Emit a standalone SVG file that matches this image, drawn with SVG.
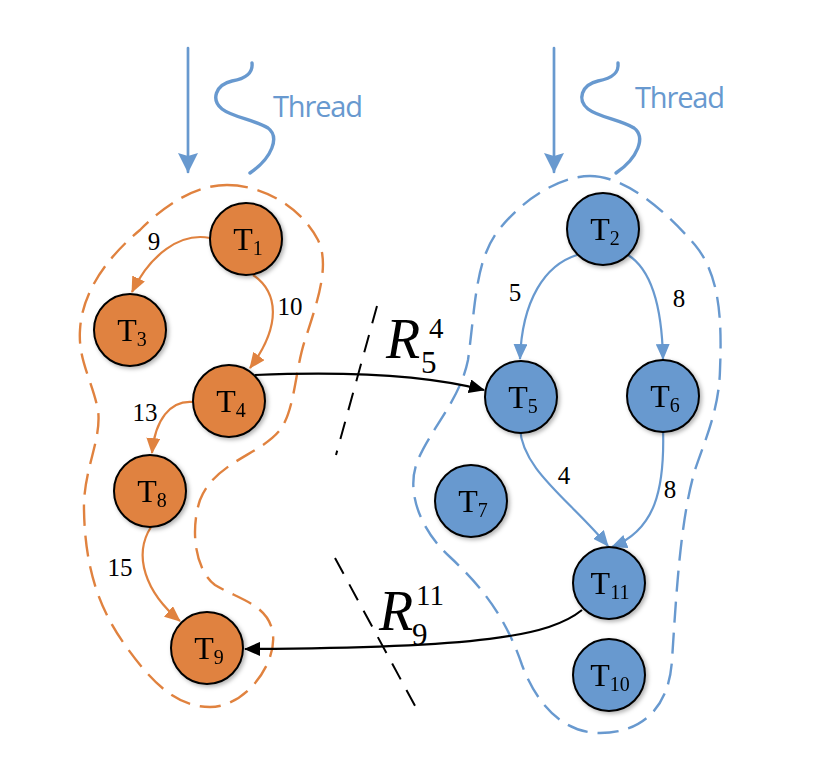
<svg xmlns="http://www.w3.org/2000/svg" width="822" height="758" viewBox="0 0 822 758">
<style>
.on{fill:#E0823F;stroke:#000;stroke-width:2}
.bn{fill:#6899CF;stroke:#000;stroke-width:2}
.lbl{font-family:"Liberation Serif","Times New Roman",serif;font-size:32px;fill:#000;text-anchor:middle}
.sub{font-size:20px}
.el{font-family:"Liberation Serif","Times New Roman",serif;font-size:25px;fill:#000;text-anchor:middle}
.oe{fill:none;stroke:#E0823F;stroke-width:2.2}
.be{fill:none;stroke:#6899CF;stroke-width:2.2}
.ke{fill:none;stroke:#000;stroke-width:2.2}
.od{fill:none;stroke:#E0823F;stroke-width:2.4;stroke-dasharray:21 10}
.bd{fill:none;stroke:#6899CF;stroke-width:2.4;stroke-dasharray:21 10}
.kd{fill:none;stroke:#000;stroke-width:2;stroke-dasharray:18 12}
.thr{fill:none;stroke:#6899CF;stroke-width:2.7;stroke-linecap:round}
.sq{fill:none;stroke:#6899CF;stroke-width:3.4;stroke-linecap:round}
.tt{font-family:"Open Sans","Noto Sans",sans-serif;font-size:29px;fill:#6899CF}
.R{font-family:"Liberation Serif","Times New Roman",serif;fill:#000}
</style>
<defs>
<filter id="sh" x="-20%" y="-20%" width="150%" height="150%">
<feDropShadow dx="2" dy="2" stdDeviation="2" flood-color="#000" flood-opacity="0.3"/>
</filter>
<marker id="ao" markerUnits="userSpaceOnUse" markerWidth="16" markerHeight="14" refX="15" refY="7" orient="auto"><path d="M0,0 L16,7 L0,14 z" fill="#E0823F"/></marker>
<marker id="ab" markerUnits="userSpaceOnUse" markerWidth="16" markerHeight="14" refX="15" refY="7" orient="auto"><path d="M0,0 L16,7 L0,14 z" fill="#6899CF"/></marker>
<marker id="ak" markerUnits="userSpaceOnUse" markerWidth="16" markerHeight="14" refX="15" refY="7" orient="auto"><path d="M0,0 L16,7 L0,14 z" fill="#000"/></marker>
<marker id="at" markerUnits="userSpaceOnUse" markerWidth="20" markerHeight="20" refX="19" refY="10" orient="auto"><path d="M0,0 L20,10 L0,20 L3,10 z" fill="#6899CF"/></marker>
</defs>

<g id="threads">
<line class="thr" x1="188" y1="48" x2="188" y2="172" marker-end="url(#at)"/>
<path class="sq" d="M252,63 C253,72 248,78 232,81 C215,85 211,100 222,109 C232,117 255,120 268,128 C280,137 272,158 250,173"/>
<text class="tt" x="273" y="117" textLength="90">Thread</text>
<line class="thr" x1="554" y1="48" x2="554" y2="172" marker-end="url(#at)"/>
<path class="sq" d="M618,63 C619,72 614,78 598,81 C581,85 577,100 588,109 C598,117 621,120 634,128 C646,137 638,158 616,173"/>
<text class="tt" x="635" y="108" textLength="90">Thread</text>
</g>

<g id="boundaries">
<path class="od" d="M227,185 C260,185 300,205 318,240 C330,265 318,300 305,340 C295,370 295,410 280,430 C260,455 215,462 200,500 C190,530 195,570 215,585 C240,600 270,605 273,635 C276,665 245,707 210,707 C175,707 150,680 125,645 C100,610 85,570 84,510 C83,470 102,440 98,410 C92,380 78,360 80,330 C82,290 110,255 140,230 C165,205 195,185 227,185 Z"/>
<path class="bd" d="M590,176 C625,176 665,210 695,245 C720,275 722,320 720,370 C719,410 705,440 695,470 C680,520 676,600 672,660 C669,710 640,733 600,733 C560,733 535,700 522,665 C505,615 480,585 450,557 C420,530 405,490 418,460 C430,430 460,400 468,360 C475,310 475,265 495,235 C520,200 560,176 590,176 Z"/>
<line class="kd" x1="377" y1="306" x2="336" y2="455"/>
<line class="kd" x1="335" y1="558" x2="420" y2="715"/>
</g>

<g id="connectors">
<path class="oe" d="M210,238 C180,232 150,255 132,292" marker-end="url(#ao)"/>
<path class="oe" d="M253,275 C278,292 282,325 250,368" marker-end="url(#ao)"/>
<path class="oe" d="M193,402 C170,400 155,420 152,453" marker-end="url(#ao)"/>
<path class="oe" d="M151,527 C133,555 145,592 180,621" marker-end="url(#ao)"/>
<path class="be" d="M577,255 C545,265 522,300 520,359" marker-end="url(#ab)"/>
<path class="be" d="M628,255 C652,270 662,310 663,359" marker-end="url(#ab)"/>
<path class="be" d="M520,428 C522,470 570,500 608,546" marker-end="url(#ab)"/>
<path class="be" d="M663,428 C665,490 655,530 612,547" marker-end="url(#ab)"/>
<path class="ke" d="M255,375 C350,371 430,376 484,390" marker-end="url(#ak)"/>
<path class="ke" d="M582,610 C550,636 480,648 245,649" marker-end="url(#ak)"/>
<text class="el" x="154" y="250">9</text>
<text class="el" x="290" y="315">10</text>
<text class="el" x="145" y="421">13</text>
<text class="el" x="120" y="576">15</text>
<text class="el" x="515" y="301">5</text>
<text class="el" x="679" y="307">8</text>
<text class="el" x="564" y="484">4</text>
<text class="el" x="670" y="498">8</text>
<text class="R" x="386" y="358" font-size="56" font-style="italic">R</text>
<text class="R" x="421" y="373" font-size="31">5</text>
<text class="R" x="429" y="338" font-size="29">4</text>
<text class="R" x="379" y="630" font-size="56" font-style="italic">R</text>
<text class="R" x="412" y="645" font-size="31">9</text>
<text class="R" x="416" y="605" font-size="29">11</text>
</g>

<g id="T1" filter="url(#sh)"><circle class="on" cx="246" cy="239" r="36"/><text class="lbl" x="248" y="250">T<tspan class="sub" dy="5">1</tspan></text></g>
<g id="T3" filter="url(#sh)"><circle class="on" cx="130" cy="330" r="36"/><text class="lbl" x="132" y="341">T<tspan class="sub" dy="5">3</tspan></text></g>
<g id="T4" filter="url(#sh)"><circle class="on" cx="229" cy="401" r="36"/><text class="lbl" x="231" y="412">T<tspan class="sub" dy="5">4</tspan></text></g>
<g id="T8" filter="url(#sh)"><circle class="on" cx="150" cy="491" r="36"/><text class="lbl" x="152" y="502">T<tspan class="sub" dy="5">8</tspan></text></g>
<g id="T9" filter="url(#sh)"><circle class="on" cx="207" cy="648" r="36"/><text class="lbl" x="209" y="659">T<tspan class="sub" dy="5">9</tspan></text></g>
<g id="T2" filter="url(#sh)"><circle class="bn" cx="603" cy="229" r="36"/><text class="lbl" x="605" y="240">T<tspan class="sub" dy="5">2</tspan></text></g>
<g id="T5" filter="url(#sh)"><circle class="bn" cx="521" cy="397" r="36"/><text class="lbl" x="523" y="408">T<tspan class="sub" dy="5">5</tspan></text></g>
<g id="T6" filter="url(#sh)"><circle class="bn" cx="663" cy="396" r="36"/><text class="lbl" x="665" y="407">T<tspan class="sub" dy="5">6</tspan></text></g>
<g id="T7" filter="url(#sh)"><circle class="bn" cx="471" cy="501" r="36"/><text class="lbl" x="473" y="512">T<tspan class="sub" dy="5">7</tspan></text></g>
<g id="T11" filter="url(#sh)"><circle class="bn" cx="609" cy="583" r="36"/><text class="lbl" x="610" y="594">T<tspan class="sub" dy="5">11</tspan></text></g>
<g id="T10" filter="url(#sh)"><circle class="bn" cx="609" cy="675" r="36"/><text class="lbl" x="610" y="686">T<tspan class="sub" dy="5">10</tspan></text></g>
</svg>
